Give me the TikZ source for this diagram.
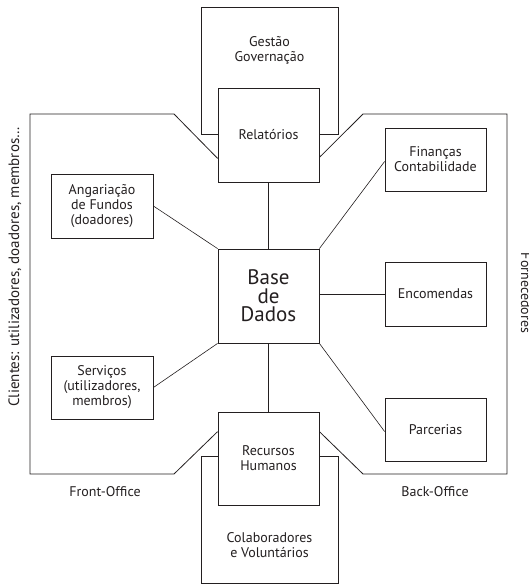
\documentclass[tikz,border=0pt]{standalone}
\usepackage{fontspec}
\setmainfont{PT Sans}
\usetikzlibrary{calc}
\definecolor{ink}{HTML}{231F20}
\begin{document}
\begin{tikzpicture}[x=1pt,y=-1pt,
  box/.style={draw=ink, line width=0.8pt, fill=white, inner sep=0pt,
    align=center, text=ink, font=\fontsize{14}{15}\selectfont},
  link/.style={draw=ink, line width=0.6pt},
  frame/.style={draw=ink, line width=0.8pt},
  lbl/.style={align=center, inner sep=0pt, text=ink, font=\fontsize{14}{15}\selectfont}]
\useasboundingbox (0,0) rectangle (529,584);

% outer boxes sitting behind the top and bottom nodes
\node[box, minimum width=137pt, minimum height=127pt] (gest) at (269.5,70.5) {};
\node[lbl] (gestt) at (269.5,50) {Gestão\\Governação};
\node[box, minimum width=137pt, minimum height=127pt] (colab) at (269.5,519.5) {};
\node[lbl] (colabt) at (269.5,545) {Colaboradores\\e Voluntários};

% main nodes
\node[box, minimum width=101pt, minimum height=94pt] (rel) at (268.5,135) {Relatórios};
\node[box, minimum width=101pt, minimum height=93pt] (rec) at (268.5,458.5) {Recursos\\Humanos};
\node[box, minimum width=101pt, minimum height=94pt,
  font=\fontsize{21}{18.5}\selectfont] (base) at (268.5,296) {Base\\de\\Dados};
\node[box, minimum width=102pt, minimum height=64pt] (ang) at (102,206) {Angariação\\de Fundos\\(doadores)};
\node[box, minimum width=102pt, minimum height=63pt] (serv) at (102,387.5) {Serviços\\(utilizadores,\\membros)};
\node[box, minimum width=101pt, minimum height=63pt] (fin) at (435.5,159.5) {Finanças\\Contabilidade};
\node[box, minimum width=101pt, minimum height=64pt] (enc) at (435.5,294) {Encomendas};
\node[box, minimum width=101pt, minimum height=63pt] (parc) at (435.5,429.5) {Parcerias};

% links to the database
\draw[link] (rel.south) -- (base.north);
\draw[link] (base.south) -- (rec.north);
\draw[link] (ang.east) -- (base.north west);
\draw[link] (serv.east) -- (base.south west);
\draw[link] (base.north east) -- ($(fin.west)+(0,2)$);
\draw[link] (enc.west -| base.east) -- (enc.west);
\draw[link] (base.south east) -- ($(parc.west)+(0,2)$);

% front-office and back-office areas
\coordinate (ftl) at (30,114);
\coordinate (ftr) at (174,114);
\coordinate (fbl) at (30,474);
\coordinate (fbr) at (174,474);
\coordinate (btl) at (363,114);
\coordinate (btr) at (507,114);
\coordinate (bbl) at (363,474);
\coordinate (bbr) at (507,474);
\draw[frame] ($(rel.south west)+(0,-24)$) -- (ftr) -- (ftl) -- (fbl) -- (fbr) -- ($(rec.north west)+(0,20)$);
\draw[frame] ($(rel.south east)+(0,-25)$) -- (btl) -- (btr) -- (bbr) -- (bbl) -- ($(rec.north east)+(0,20)$);

\node[lbl] (front) at (105,492) {Front-Office};
\node[lbl] (back) at (435,492) {Back-Office};
\node[lbl, rotate=90, font=\fontsize{15}{16}\selectfont] (cli) at (15,267) {Clientes: utilizadores, doadores, membros…};
\node[lbl, rotate=-90] (forn) at (526,293) {Fornecedores};
\end{tikzpicture}
\end{document}
